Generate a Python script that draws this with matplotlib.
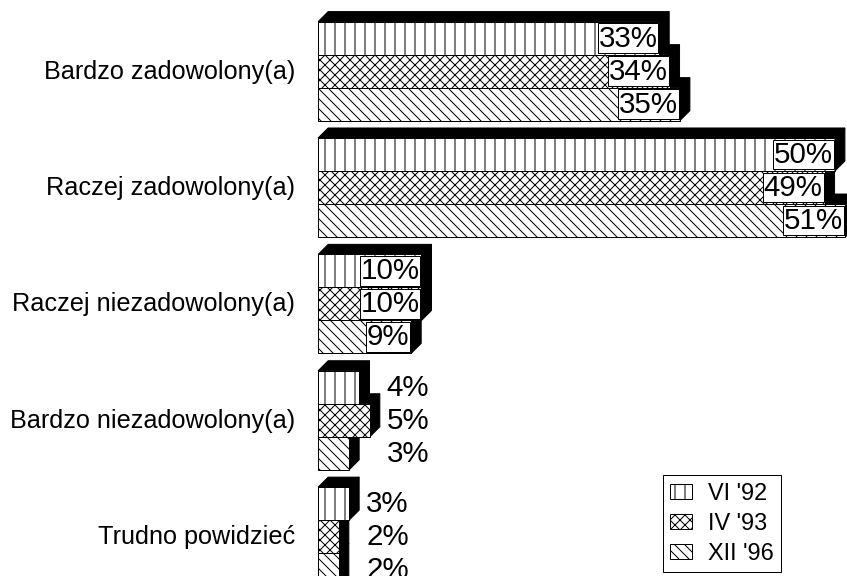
import matplotlib
matplotlib.use('Agg')
import matplotlib.pyplot as plt
from matplotlib.patches import Polygon, Rectangle, Patch

# --- data -----------------------------------------------------------
categories = ['Bardzo zadowolony(a)', 'Raczej zadowolony(a)',
              'Raczej niezadowolony(a)', 'Bardzo niezadowolony(a)',
              'Trudno powidzieć']
series = ["VI '92", "IV '93", "XII '96"]
vi92 = [33, 50, 10, 4, 3]
iv93 = [34, 49, 10, 5, 2]
xii96 = [35, 51, 9, 3, 2]
hatches = ['|', 'xx', '\\\\']

values = [vi92, iv93, xii96]

# --- geometry (pixels) ----------------------------------------------
DPI = 60
W, H = 847, 576
PX = 10.33           # pixels per percent
X0 = 318             # pixel of 0 %
BAR = 33.0           # bar height in px (= 1 data unit)
PITCH = 116.3        # group pitch in px
TOP = 22             # top of first bar in px
DX = 10 / PX         # depth offset (percent units)
DY = 10 / BAR        # depth offset (bar units)

def pt(px):
    return px * 72.0 / DPI

plt.rcParams['font.family'] = ['Liberation Sans', 'DejaVu Sans']
plt.rcParams['hatch.linewidth'] = pt(1.0)

fig = plt.figure(figsize=((W + 0.4) / DPI, (H + 0.4) / DPI), dpi=DPI)
ax = fig.add_axes([0, 0, 1, 1])
ax.set_xlim(-X0 / PX, (W - X0) / PX)
ax.set_ylim(H / BAR, 0)
ax.axis('off')

lw = pt(1.0)
fs_val = pt(29.5)
fs_cat = pt(25.3)

for g in reversed(range(len(categories))):
    gtop = (TOP + g * PITCH) / BAR
    for k in reversed(range(len(series))):
        v = values[k][g]
        y0 = gtop + k
        y1 = y0 + 1
        # top face
        ax.add_patch(Polygon([(0, y0), (DX, y0 - DY), (v + DX, y0 - DY), (v, y0)],
                             closed=True, fc='black', ec='black', lw=lw))
        # side face
        ax.add_patch(Polygon([(v, y0), (v + DX, y0 - DY), (v + DX, y1 - DY), (v, y1)],
                             closed=True, fc='black', ec='black', lw=lw))
        # front face
        ax.add_patch(Rectangle((0, y0), v, 1, fc='white', ec='black', lw=lw,
                               hatch=hatches[k]))

    # category label
    ax.text(-23 / PX, gtop + 1.5, categories[g], ha='right', va='center',
            fontsize=fs_cat)

    # value labels
    gmax = max(values[k][g] for k in range(len(series)))
    for k in range(len(series)):
        v = values[k][g]
        ymid = gtop + k + 0.5
        if gmax >= 9:
            pad = 0.03
            ax.annotate(f'{v}%', (v, ymid), xytext=(-pad * fs_val - lw, 0),
                        textcoords='offset points', ha='right', va='center',
                        fontsize=fs_val, annotation_clip=False,
                        bbox=dict(boxstyle=f'square,pad={pad}', fc='white',
                                  ec='black', lw=lw))
        else:
            ax.text(gmax + DX + 7 / PX, ymid, f'{v}%', ha='left', va='center',
                    fontsize=fs_val)

handles = [Patch(fc='white', ec='black', hatch=h, lw=lw) for h in hatches]
leg = ax.legend(handles, series, loc='upper left',
                bbox_to_anchor=(663 / W, 1 - 475 / H),
                bbox_transform=fig.transFigure,
                fontsize=pt(23.5), frameon=True, fancybox=False,
                edgecolor='black', framealpha=1, borderpad=0.3,
                labelspacing=0.3, handlelength=0.9, handleheight=0.6,
                handletextpad=0.7, borderaxespad=0)
leg.get_frame().set_linewidth(lw)

fig.savefig('out.png', dpi=DPI)
